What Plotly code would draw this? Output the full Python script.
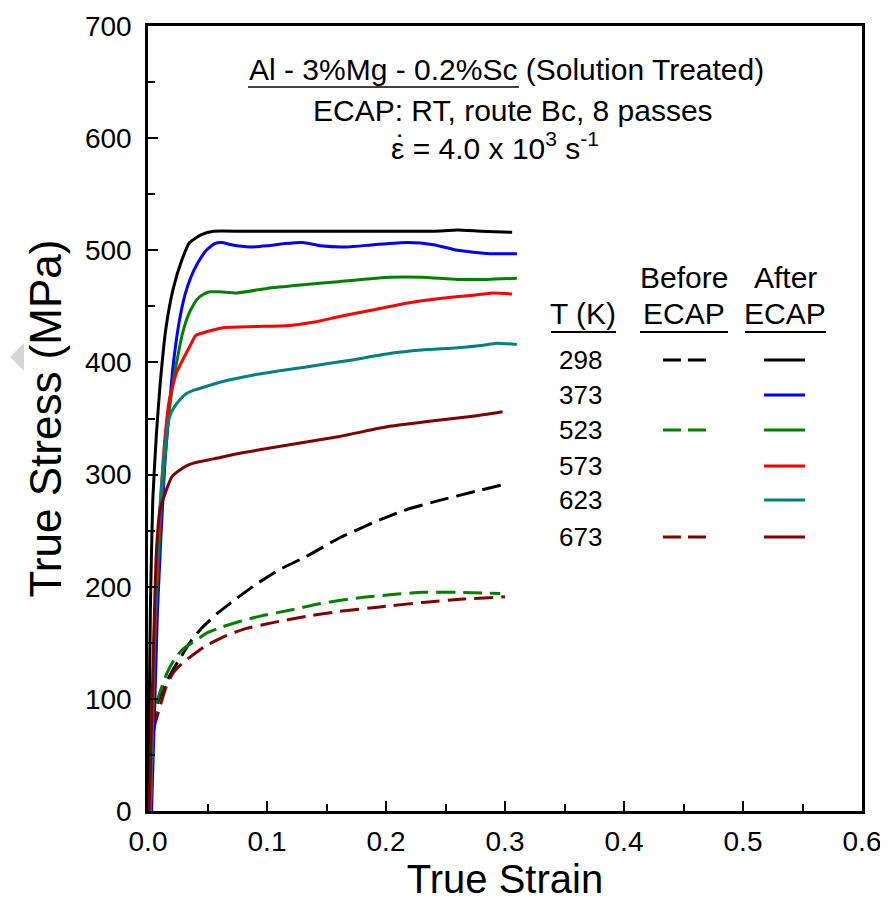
import plotly.graph_objects as go

# ---------------- data ----------------
# After ECAP (solid)
x_a298 = [0, 0.002, 0.004, 0.007, 0.010, 0.015, 0.021, 0.028, 0.035, 0.045, 0.055, 0.08, 0.12, 0.16, 0.20, 0.24, 0.26, 0.28, 0.306]
y_a298 = [0, 180, 277, 335, 378, 430, 465, 490, 507, 514, 517, 517, 517, 517, 517, 517, 518, 517, 516]

x_a373 = [0.003, 0.008, 0.014, 0.021, 0.026, 0.031, 0.036, 0.042, 0.049, 0.056, 0.062, 0.07, 0.086, 0.10, 0.115, 0.130, 0.145, 0.167, 0.19, 0.218, 0.24, 0.26, 0.287, 0.31]
y_a373 = [0, 180, 307, 396, 435, 460, 476, 489, 500, 506, 507, 505, 503, 504, 506, 507, 504, 503, 505, 507, 505, 500, 497, 497]

x_a523 = [0.002, 0.006, 0.011, 0.016, 0.021, 0.029, 0.035, 0.041, 0.047, 0.052, 0.06, 0.075, 0.10, 0.128, 0.16, 0.203, 0.23, 0.26, 0.285, 0.31]
y_a523 = [0, 160, 270, 337, 382, 426, 445, 456, 461, 463, 463, 462, 466, 469, 472, 476, 476, 474, 474, 475]

x_a573 = [0.002, 0.006, 0.010, 0.014, 0.018, 0.024, 0.030, 0.035, 0.040, 0.045, 0.063, 0.09, 0.119, 0.14, 0.161, 0.19, 0.218, 0.245, 0.273, 0.29, 0.306]
y_a573 = [0, 170, 265, 330, 367, 391, 404, 414, 424, 426, 431, 432, 433, 436, 441, 447, 453, 457, 460, 462, 461]

x_a623 = [0.002, 0.005, 0.009, 0.014, 0.018, 0.022, 0.027, 0.032, 0.038, 0.05, 0.063, 0.09, 0.133, 0.17, 0.203, 0.23, 0.26, 0.28, 0.293, 0.31]
y_a623 = [0, 150, 255, 322, 351, 360, 367, 372, 375, 379, 383, 389, 396, 402, 408, 411, 413, 415, 417, 416]

x_a673 = [0.001, 0.004, 0.007, 0.010, 0.015, 0.020, 0.028, 0.035, 0.041, 0.055, 0.077, 0.11, 0.161, 0.203, 0.24, 0.273, 0.298]
y_a673 = [0, 120, 230, 268, 285, 298, 305, 309, 311, 314, 319, 325, 334, 343, 348, 352, 356]

# Before ECAP (dashed)
x_b298 = [0, 0.002, 0.005, 0.010, 0.015, 0.021, 0.028, 0.035, 0.045, 0.058, 0.075, 0.092, 0.11, 0.133, 0.16, 0.189, 0.215, 0.245, 0.275, 0.302]
y_b298 = [0, 50, 85, 102, 114, 126, 138, 150, 163, 176, 190, 203, 215, 227, 243, 257, 268, 277, 285, 292]

x_b523 = [0, 0.003, 0.008, 0.016, 0.022, 0.029, 0.040, 0.050, 0.062, 0.077, 0.095, 0.119, 0.145, 0.176, 0.205, 0.231, 0.26, 0.296]
y_b523 = [0, 63, 99, 123, 135, 144, 152, 159, 164, 169, 174, 179, 185, 190, 193, 195, 195, 194]

x_b673 = [0, 0.003, 0.006, 0.010, 0.015, 0.021, 0.028, 0.035, 0.048, 0.063, 0.08, 0.105, 0.13, 0.161, 0.195, 0.231, 0.265, 0.300]
y_b673 = [0, 57, 78, 93, 110, 123, 131, 137, 147, 155, 162, 168, 173, 178, 182, 186, 189, 191]

temps = ["298", "373", "523", "573", "623", "673"]
colors = ["#000000", "#0000FF", "#008000", "#FF0000", "#008080", "#800000"]
has_before = [True, False, True, False, False, True]

x_ticks = [0.0, 0.1, 0.2, 0.3, 0.4, 0.5, 0.6]
x_ticklabels = ["0.0", "0.1", "0.2", "0.3", "0.4", "0.5", "0.6"]
y_ticks = [0, 100, 200, 300, 400, 500, 600, 700]

# ---------------- figure ----------------
FONT = "Liberation Sans, Arial, sans-serif"
W, H = 880, 897            # page body has an 8px margin
L, R, T, B = 140, 26, 18, 94

# helpers: reference-image pixel -> paper coordinates
def px(xr):
    return (xr - 148) / 714.0

def py(yr):
    return (811 - yr) / 785.0

fig = go.Figure()

after = [(x_a298, y_a298), (x_a373, y_a373), (x_a523, y_a523),
         (x_a573, y_a573), (x_a623, y_a623), (x_a673, y_a673)]
before = {0: (x_b298, y_b298), 2: (x_b523, y_b523), 5: (x_b673, y_b673)}

for i, (xs, ys) in before.items():
    fig.add_trace(go.Scatter(x=xs, y=ys, mode="lines",
                             line=dict(color=colors[i], width=3, dash="19px,8px",
                                       shape="spline", smoothing=0.5),
                             name=temps[i] + " before", showlegend=False))
for i, (xs, ys) in enumerate(after):
    fig.add_trace(go.Scatter(x=xs, y=ys, mode="lines",
                             line=dict(color=colors[i], width=3,
                                       shape="spline", smoothing=0.5),
                             name=temps[i] + " after", showlegend=False))

annotations = []
shapes = []

TXT = dict(family=FONT, size=30, color="black")
# header text block
annotations.append(dict(xref="paper", yref="paper", x=px(248), y=py(87),
                        text="Al - 3%Mg - 0.2%Sc (Solution Treated)",
                        showarrow=False, font=TXT, xanchor="left", yanchor="bottom",
                        borderpad=0))
shapes.append(dict(type="line", xref="paper", yref="paper", x0=px(248), x1=px(519),
                   y0=py(87), y1=py(87), line=dict(color="black", width=1.5)))
annotations.append(dict(xref="paper", yref="paper", x=px(312), y=py(128),
                        text="ECAP: RT, route Bc, 8 passes",
                        showarrow=False, font=TXT, xanchor="left", yanchor="bottom",
                        borderpad=0))
annotations.append(dict(xref="paper", yref="paper", x=px(390), y=py(166),
                        text="ε = 4.0 x 10<sup>3</sup> s<sup>-1</sup>",
                        showarrow=False, font=TXT, xanchor="left", yanchor="bottom",
                        borderpad=0))
# dot over epsilon (rate symbol)
annotations.append(dict(xref="paper", yref="paper", x=px(401), y=py(146),
                        text="\u02d9", showarrow=False,
                        font=dict(family=FONT, size=30, color="black"),
                        xanchor="center", yanchor="middle"))

# legend table headers
hdr = dict(family=FONT, size=30, color="black")
annotations += [
    dict(xref="paper", yref="paper", x=px(583), y=py(313), text="T (K)", showarrow=False, font=hdr, xanchor="center", yanchor="middle"),
    dict(xref="paper", yref="paper", x=px(684), y=py(277), text="Before", showarrow=False, font=hdr, xanchor="center", yanchor="middle"),
    dict(xref="paper", yref="paper", x=px(684), y=py(313), text="ECAP", showarrow=False, font=hdr, xanchor="center", yanchor="middle"),
    dict(xref="paper", yref="paper", x=px(785), y=py(277), text="After", showarrow=False, font=hdr, xanchor="center", yanchor="middle"),
    dict(xref="paper", yref="paper", x=px(785), y=py(313), text="ECAP", showarrow=False, font=hdr, xanchor="center", yanchor="middle"),
]
for x0, x1 in [(551, 616), (640, 728), (745, 826)]:
    shapes.append(dict(type="line", xref="paper", yref="paper", x0=px(x0), x1=px(x1),
                       y0=py(332), y1=py(332), line=dict(color="black", width=2)))

row_y = [360, 395, 430, 466, 500, 537]
for i, t in enumerate(temps):
    annotations.append(dict(xref="paper", yref="paper", x=px(580), y=py(row_y[i]), text=t,
                            showarrow=False, font=dict(family=FONT, size=26, color="black"),
                            xanchor="center", yanchor="middle"))
    if has_before[i]:
        for a, b in [(663, 681), (688, 706)]:
            shapes.append(dict(type="line", xref="paper", yref="paper", x0=px(a), x1=px(b),
                               y0=py(row_y[i]), y1=py(row_y[i]),
                               line=dict(color=colors[i], width=3)))
    shapes.append(dict(type="line", xref="paper", yref="paper", x0=px(764), x1=px(805),
                       y0=py(row_y[i]), y1=py(row_y[i]), line=dict(color=colors[i], width=3)))

# faint watermark triangle at the left edge
shapes.append(dict(type="path", xref="paper", yref="paper",
                   path=f"M {px(10)},{py(357)} L {px(24)},{py(343)} L {px(24)},{py(371)} Z",
                   fillcolor="#d6d6d6", line=dict(width=0)))

fig.update_layout(
    width=W, height=H,
    margin=dict(l=L, r=R, t=T, b=B, autoexpand=False),
    paper_bgcolor="white", plot_bgcolor="white",
    font=dict(family=FONT, color="black"),
    annotations=annotations, shapes=shapes,
    showlegend=False,
)
fig.update_xaxes(
    range=[0, 0.6], tickvals=x_ticks, ticktext=x_ticklabels,
    ticks="inside", ticklen=10, tickwidth=2, tickcolor="black",
    minor=dict(dtick=0.05, ticks="inside", ticklen=7, tickwidth=2, tickcolor="black", showgrid=False),
    showline=True, linewidth=2.5, linecolor="black", mirror=True,
    showgrid=False, zeroline=False,
    tickfont=dict(family=FONT, size=28, color="black"), ticklabelstandoff=4,
    title=dict(text="True Strain", font=dict(family=FONT, size=40, color="black"), standoff=2),
)
fig.update_yaxes(
    range=[0, 700], tickvals=y_ticks,
    ticks="inside", ticklen=10, tickwidth=2, tickcolor="black",
    minor=dict(dtick=50, ticks="inside", ticklen=7, tickwidth=2, tickcolor="black", showgrid=False),
    showline=True, linewidth=2.5, linecolor="black", mirror=True,
    showgrid=False, zeroline=False,
    tickfont=dict(family=FONT, size=28, color="black"), ticklabelstandoff=8,
    title=dict(text="True Stress (MPa)", font=dict(family=FONT, size=44, color="black"), standoff=10),
)

fig.write_html("out.html")
